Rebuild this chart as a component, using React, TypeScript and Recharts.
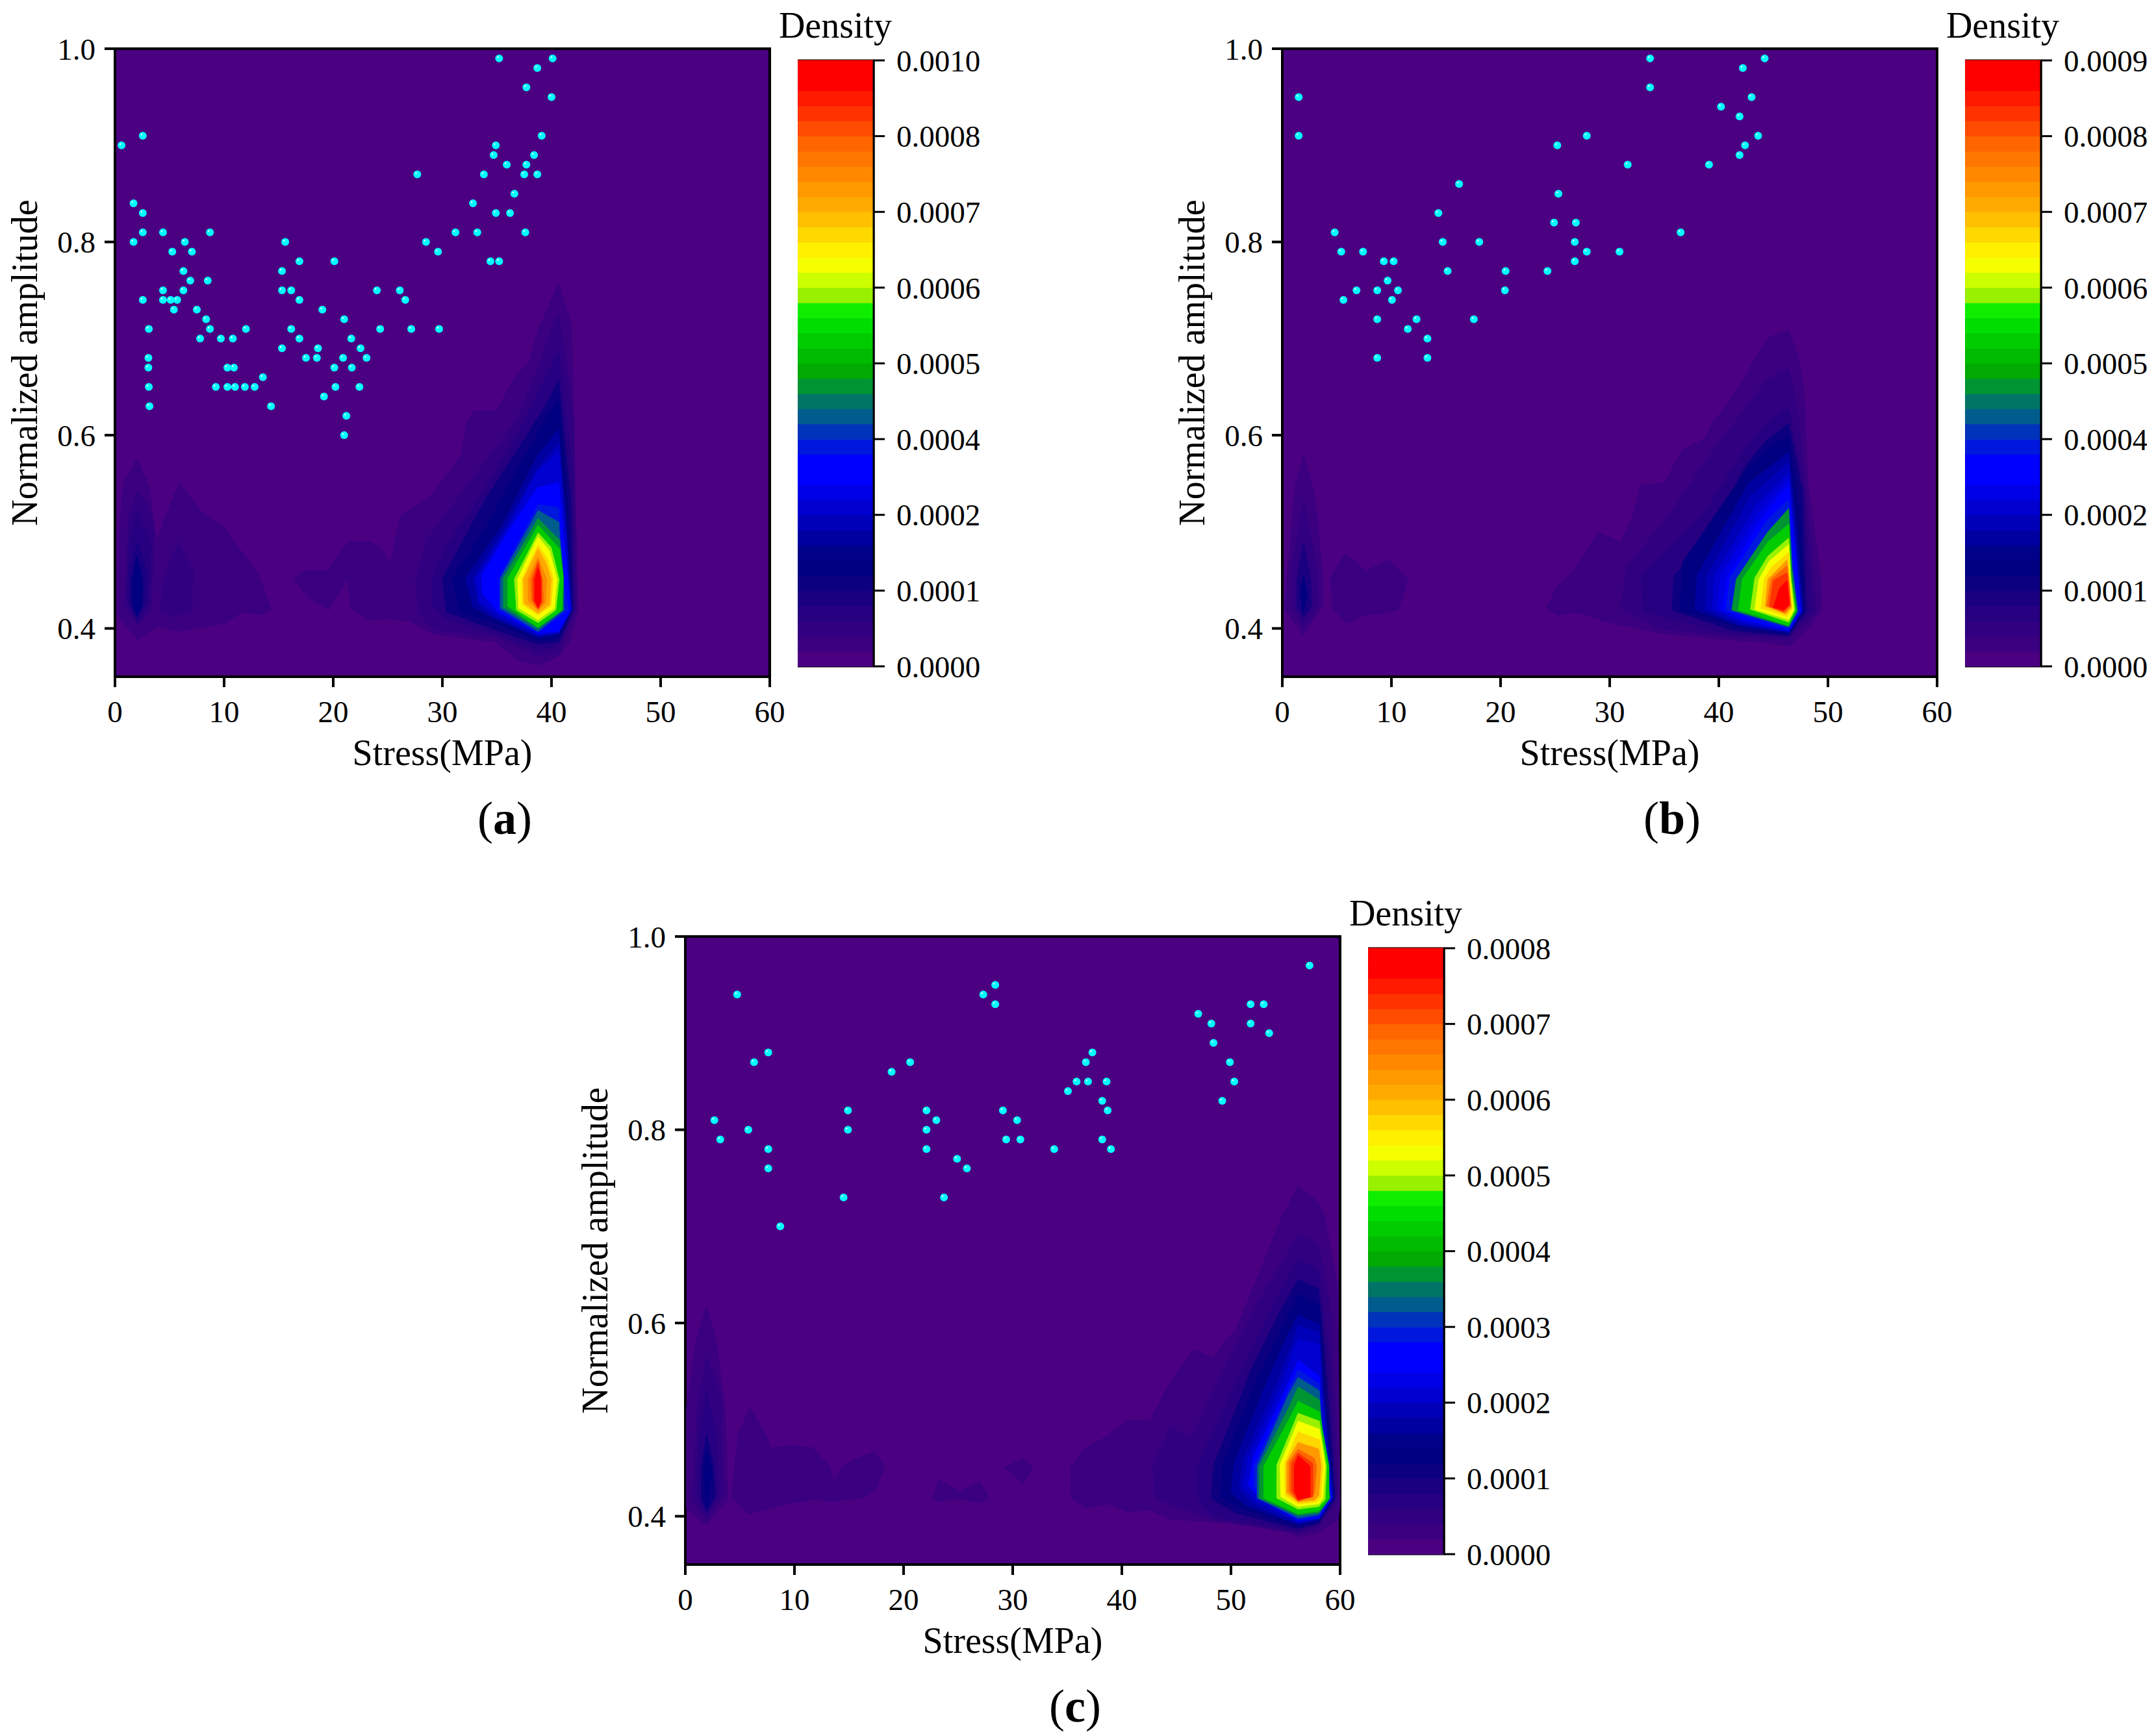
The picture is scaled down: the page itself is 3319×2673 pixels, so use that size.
import React from 'react'
import { BarChart, Bar, ScatterChart, Scatter, XAxis, YAxis, ReferenceArea } from 'recharts'

const FONT = '"Liberation Serif", "Times New Roman", serif'

// density bands, low to high
const bandColors = [
  '#4B0082', '#3A0080', '#300080', '#260080', '#1A0080', '#0C0080', '#000080', '#000088',
  '#0000A0', '#0000B8', '#0000D0', '#0000E6', '#0000FF', '#0000FF', '#0018DD', '#0033BB',
  '#005C8C', '#007566', '#009433', '#00AA00', '#00BB00', '#00CC00', '#00DD00', '#10EE00',
  '#99F000', '#CCFF00', '#F5FF00', '#FFF000', '#FFD800', '#FFC000', '#FFAA00', '#FF9900',
  '#FF8800', '#FF7700', '#FF6600', '#FF4C00', '#FF3300', '#FF1A00', '#FF0000', '#FF0000',
]

const stressTicks = [0, 10, 20, 30, 40, 50, 60]
const amplitudeTicks = [0.4, 0.6, 0.8, 1.0]
const bandTicks = [0, 5, 10, 15, 20, 25, 30, 35, 40]
const densityLabelsA = ['0.0000', '0.0001', '0.0002', '0.0004', '0.0005', '0.0006', '0.0007', '0.0008', '0.0010']
const densityLabelsB = ['0.0000', '0.0001', '0.0002', '0.0004', '0.0005', '0.0006', '0.0007', '0.0008', '0.0009']
const densityLabelsC = ['0.0000', '0.0001', '0.0002', '0.0003', '0.0004', '0.0005', '0.0006', '0.0007', '0.0008']

type Pair = [number, number]
type Contour = [number, Pair[]]

const dotsA: Pair[] = [
  [35.2, .99], [40.1, .99], [38.7, .98], [37.7, .96], [40, .95], [2.55, .91], [39.1, .91], [.6, .9], [34.9, .9],
  [34.7, .89], [38.4, .89], [35.9, .88], [37.7, .88], [27.7, .87], [33.8, .87], [37.5, .87], [38.7, .87],
  [36.6, .85], [32.8, .84], [1.7, .84], [2.55, .83], [34.9, .83], [36.2, .83], [2.55, .81], [4.4, .81], [8.7, .81],
  [31.2, .81], [33.2, .81], [37.6, .81], [1.7, .8], [6.4, .8], [15.6, .8], [28.5, .8], [5.25, .79], [7.05, .79],
  [29.6, .79], [16.9, .78], [20.1, .78], [34.4, .78], [35.2, .78], [6.27, .77], [15.3, .77], [6.9, .76], [8.5, .76],
  [4.4, .75], [6.27, .75], [15.3, .75], [16.15, .75], [24, .75], [26.1, .75], [2.55, .74], [4.4, .74], [5.1, .74],
  [5.7, .74], [16.9, .74], [26.6, .74], [5.4, .73], [7.5, .73], [19, .73], [8.35, .72], [21, .72], [3.1, .71],
  [8.7, .71], [12, .71], [16.15, .71], [24.3, .71], [27.15, .71], [29.7, .71], [7.8, .7], [9.7, .7], [10.8, .7],
  [16.9, .7], [21.65, .7], [15.3, .69], [18.6, .69], [22.5, .69], [3.06, .68], [17.5, .68], [18.5, .68], [20.9, .68],
  [23.05, .68], [3.06, .67], [10.3, .67], [10.9, .67], [20.1, .67], [21.7, .67], [13.55, .66], [3.1, .65], [9.24, .65],
  [10.3, .65], [11, .65], [11.9, .65], [12.8, .65], [20.2, .65], [22.4, .65], [19.15, .64], [3.16, .63], [14.3, .63],
  [21.2, .62], [21, .6],
]

const dotsB: Pair[] = [
  [33.7, .99], [44.2, .99], [42.2, .98], [33.7, .96], [43, .95], [1.5, .95], [40.2, .94], [41.9, .93], [1.5, .91],
  [27.9, .91], [43.6, .91], [25.2, .9], [42.4, .9], [41.9, .89], [31.65, .88], [39.1, .88], [16.2, .86], [25.3, .85],
  [14.3, .83], [24.9, .82], [26.9, .82], [4.8, .81], [36.5, .81], [14.7, .8], [18.05, .8], [26.8, .8], [5.4, .79],
  [7.4, .79], [27.9, .79], [30.9, .79], [9.3, .78], [10.2, .78], [26.8, .78], [15.15, .77], [20.46, .77], [24.3, .77],
  [9.65, .76], [6.8, .75], [8.7, .75], [10.6, .75], [20.4, .75], [5.6, .74], [10.05, .74], [8.7, .72], [12.3, .72],
  [17.55, .72], [11.5, .71], [13.3, .7], [8.7, .68], [13.3, .68],
]

const dotsC: Pair[] = [
  [57.2, .97], [28.4, .95], [4.75, .94], [27.3, .94], [28.4, .93], [51.8, .93], [53, .93], [47, .92], [48.2, .91],
  [51.8, .91], [53.5, .9], [48.4, .89], [7.6, .88], [37.3, .88], [6.3, .87], [20.6, .87], [36.7, .87], [49.9, .87],
  [18.9, .86], [35.85, .85], [36.9, .85], [38.6, .85], [50.3, .85], [35.06, .84], [38.2, .83], [49.2, .83], [14.9, .82],
  [22.1, .82], [29.1, .82], [38.7, .82], [2.66, .81], [23, .81], [30.4, .81], [5.77, .8], [14.9, .8], [22.1, .8],
  [3.2, .79], [29.4, .79], [30.7, .79], [38.2, .79], [7.6, .78], [22.1, .78], [33.8, .78], [39, .78], [24.9, .77],
  [7.6, .76], [25.8, .76], [14.5, .73], [23.7, .73], [8.7, .7],
]

// [band, outline], drawn in this order so the higher bands sit on top
const contoursA: Contour[] = [
  [1, [[2, .576], [.73, .549], [.39, .502], [.32, .412], [2.1, .388], [3.81, .402], [5.86, .397], [9.96, .405], [11.67, .417], [13.4, .414], [14.3, .42], [13.2, .4545], [9.96, .506], [7.9, .521], [5.93, .551], [4.5, .513], [3.81, .489], [3.13, .547]]],
  [2, [[2, .542], [1.25, .515], [.9, .423], [2.1, .404], [3.3, .42], [3.64, .502], [2.95, .529]]],
  [3, [[2, .52], [1.3, .49], [1.1, .43], [2.05, .405], [3.1, .425], [3.3, .49]]],
  [4, [[2, .49], [1.35, .46], [1.3, .425], [2.03, .41], [2.8, .425], [2.9, .46]]],
  [6, [[2, .476], [1.55, .449], [1.6, .425], [2.03, .412], [2.5, .425], [2.55, .449]]],
  [2, [[5.86, .49], [4.5, .454], [4.15, .42], [5.5, .412], [7.05, .42], [7.15, .46]]],
  [1, [[16.35, .452], [17.5, .46], [19.5, .46], [21.4, .49], [23.3, .49], [24.3, .484], [25.2, .468], [26.17, .517], [28.95, .537], [31.73, .58], [32.2, .613], [32.9, .625], [34.9, .625], [36.7, .661], [37.98, .677], [38.77, .709], [40.65, .757], [41.85, .713], [42.44, .419], [41.65, .386], [40.66, .371], [38.77, .362], [36.9, .367], [34.9, .386], [29.15, .394], [27.1, .407], [25.3, .41], [23.3, .409], [21.6, .42], [21.3, .452], [19.6, .419], [17.8, .431]]],
  [2, [[40.66, .725], [42.05, .617], [42.28, .419], [40.66, .375], [38.77, .371], [34.9, .391], [29.15, .399], [27.76, .417], [27.56, .452], [28.55, .491], [31.73, .54], [35.1, .589], [36.9, .617], [38.87, .672], [39.86, .707]]],
  [3, [[40.66, .688], [41.95, .562], [42.14, .419], [40.66, .382], [38.77, .378], [34.7, .395], [30.14, .411], [29.05, .425], [29.05, .452], [30.34, .485], [33.9, .545], [37.1, .606], [39.07, .652]]],
  [5, [[40.66, .657], [41.75, .535], [41.95, .419], [40.66, .386], [38.77, .384], [34.5, .4], [30.34, .417], [30.04, .452], [33.7, .529], [37.28, .592], [39.47, .631]]],
  [6, [[40.66, .639], [41.45, .535], [41.85, .419], [40.66, .39], [38.77, .388], [34.7, .406], [31.53, .417], [30.94, .452], [34.1, .507], [37.28, .573], [39.47, .617]]],
  [8, [[40.66, .606], [41.35, .507], [41.85, .419], [40.66, .394], [38.77, .3905], [34.9, .4096], [32.8, .422], [32.1, .452], [35.5, .507], [38.67, .5784]]],
  [9, [[40.66, .592], [41.35, .507], [41.8, .419], [40.66, .395], [38.77, .392], [34.9, .411], [33.3, .425], [32.8, .452], [35.9, .507], [38.67, .565]]],
  [10, [[40.66, .584], [41.29, .4934], [41.8, .419], [40.66, .396], [38.77, .3932], [35, .4138], [33.4, .4275], [33.1, .452], [36.1, .507], [38.67, .562]]],
  [12, [[40.66, .551], [41.25, .48], [41.75, .419], [40.66, .397], [38.77, .395], [35.1, .417], [33.7, .436], [33.6, .455], [36.1, .5016], [38.67, .5455]]],
  [14, [[38.77, .528], [40.66, .525], [41.05, .452], [41.55, .419], [38.77, .396], [35.2, .419], [35.2, .452]]],
  [16, [[38.77, .522], [40.66, .51], [41.15, .419], [38.77, .397], [35.34, .421], [35.34, .452]]],
  [18, [[38.77, .514], [40.76, .491], [41.11, .452], [41.05, .419], [38.77, .4], [35.6, .422], [35.6, .452]]],
  [21, [[38.77, .507], [40.76, .482], [41.05, .452], [40.95, .419], [38.77, .401], [36, .423], [36, .452]]],
  [24, [[38.77, .499], [39.96, .484], [40.7, .451], [40.4, .419], [38.77, .406], [36.8, .419], [36.6, .451]]],
  [26, [[38.77, .495], [39.82, .48], [40.5, .451], [40.26, .421], [38.77, .409], [37, .421], [36.9, .451]]],
  [28, [[38.77, .4865], [39.66, .4714], [40.16, .451], [39.96, .4234], [38.77, .4138], [37.32, .4247], [37.28, .451]]],
  [30, [[38.77, .4824], [39.5, .4673], [39.96, .451], [39.82, .4247], [38.77, .4157], [37.5, .4261], [37.44, .451]]],
  [32, [[38.77, .4742], [39.23, .4604], [39.56, .451], [39.47, .427], [38.77, .4187], [37.88, .428], [37.84, .451]]],
  [34, [[38.77, .47], [39.17, .451], [39.27, .4275], [38.77, .4193], [38.18, .429], [38.08, .451]]],
  [36, [[38.77, .4687], [39.1, .451], [39.1, .4275], [38.77, .4204], [38.3, .429], [38.28, .451]]],
  [38, [[38.77, .463], [39.01, .451], [39.01, .4275], [38.77, .4215], [38.47, .429], [38.47, .451]]],
]

const contoursB: Contour[] = [
  [1, [[1.93, .5785], [1.18, .548], [.19, .4204], [1.93, .3933], [3.71, .423], [3.71, .4523], [3.15, .5214], [2.77, .548]]],
  [2, [[1.93, .532], [.87, .4629], [.87, .4204], [1.93, .4004], [3.33, .423], [3.15, .4629]]],
  [4, [[1.93, .4895], [1.33, .4496], [1.33, .423], [1.93, .4097], [2.69, .423], [2.58, .4549]]],
  [6, [[1.93, .4549], [1.63, .4363], [1.93, .415], [2.31, .4363]]],
  [1, [[5.8, .4775], [7.69, .4594], [9.66, .4714], [11.55, .451], [10.65, .4198], [9.4, .4156], [7.69, .4143], [5.87, .4057], [4.66, .4198], [4.4, .4523]]],
  [1, [[24.17, .42], [25.1, .442], [27, .464], [28.9, .4996], [31, .4895], [32.1, .516], [32.9, .5485], [34.96, .5506], [36.67, .585], [38.75, .5966], [39.3, .6104], [41.6, .6463], [44.5, .7013], [46.4, .7088], [47.27, .681], [47.8, .649], [48.2, .548], [49.36, .45], [49.36, .4177], [48.2, .4004], [46.4, .3818], [44.24, .3858], [40.6, .3885], [34.6, .395], [29.66, .407], [27, .417], [25.3, .4137]]],
  [2, [[46.4, .669], [47.27, .6224], [48.4, .49], [48.98, .4177], [46.4, .3885], [40.6, .3925], [34.6, .4], [31, .4204], [31.55, .463], [35.35, .516], [39.5, .585], [44.43, .657]]],
  [3, [[46.4, .6277], [47.84, .5426], [48.5, .4177], [46.4, .391], [40.6, .395], [33.07, .4177], [32.88, .4549], [38.75, .5214], [42.35, .585], [44.43, .6144]]],
  [5, [[46.4, .6117], [47.65, .5426], [48, .4177], [46.4, .3925], [41.4, .3978], [35.7, .419], [35.9, .4549], [38.75, .4895], [42.5, .5692], [44.43, .5958]]],
  [6, [[46.4, .5985], [47.46, .516], [47.77, .4177], [46.4, .3938], [41.78, .4018], [36.48, .419], [36.67, .4682], [42.5, .564], [44.5, .5878]]],
  [8, [[46.4, .5825], [47.2, .5], [47.7, .4177], [46.4, .395], [41.78, .403], [37.8, .4197], [38, .4549], [42.7, .55]]],
  [9, [[46.4, .5719], [47.08, .4895], [47.65, .4177], [46.4, .3964], [41.78, .4044], [38.75, .4204], [38.94, .4549], [42.92, .5373]]],
  [10, [[46.4, .5612], [47, .4895], [47.6, .4177], [46.4, .397], [42, .406], [39.4, .4204], [39.6, .4549], [43.4, .527]]],
  [11, [[46.4, .5545], [46.95, .4895], [47.55, .4177], [46.4, .3975], [42.1, .408], [39.85, .4204], [40.2, .4549], [43.7, .52]]],
  [12, [[46.4, .5479], [46.9, .4895], [47.46, .4177], [46.4, .3978], [42.16, .4097], [40.27, .4204], [40.83, .4549], [44.05, .516]]],
  [14, [[46.4, .5333], [46.78, .4629], [47.35, .4177], [46.4, .3991], [40.65, .419], [41.02, .4523], [44.43, .512]]],
  [18, [[46.4, .524], [46.7, .4629], [47.2, .4177], [46.4, .4018], [41.2, .419], [41.6, .451], [44.5, .5]]],
  [21, [[46.4, .508], [46.63, .4523], [47.08, .419], [46.4, .4031], [41.78, .419], [42.16, .451], [44.5, .4895]]],
  [24, [[46.4, .4935], [46.63, .451], [46.97, .419], [46.4, .4066], [42.9, .4198], [43.3, .4523], [44.5, .4749]]],
  [26, [[46.4, .4868], [46.55, .451], [46.86, .419], [46.4, .4092], [43.3, .4198], [43.68, .451], [44.62, .4696]]],
  [28, [[46.4, .4788], [46.48, .451], [46.7, .4204], [46.25, .4124], [43.87, .4209], [44.17, .451], [44.8, .463]]],
  [31, [[46.25, .4709], [46.4, .4496], [46.63, .4217], [46.14, .4151], [44.25, .423], [44.5, .451]]],
  [34, [[46.25, .465], [46.45, .447], [46.6, .423], [46.02, .416], [44.4, .4235], [44.8, .451]]],
  [36, [[46.25, .4576], [46.5, .4244], [45.95, .4177], [44.62, .423], [45, .4496]]],
  [38, [[46.25, .4496], [46.48, .4244], [45.95, .419], [45, .4217], [45.57, .4416]]],
]

const contoursC: Contour[] = [
  [1, [[1.95, .6178], [.96, .5807], [.1, .512], [.1, .4078], [1.95, .3908], [3.92, .4188], [3.64, .5121], [2.85, .5807]]],
  [2, [[1.95, .567], [1.08, .512], [.69, .416], [1.95, .3969], [3.45, .4215], [3.25, .5258]]],
  [3, [[1.95, .5286], [1.28, .4847], [1.08, .4215], [1.95, .401], [3.05, .4215], [2.85, .4847]]],
  [5, [[1.95, .4847], [1.47, .4517], [1.47, .4188], [1.95, .405], [2.74, .4215], [2.58, .4517]]],
  [6, [[1.95, .4682], [1.67, .4435], [1.95, .4106], [2.46, .4435]]],
  [1, [[5.89, .512], [4.83, .4847], [4.23, .4188], [5.81, .4023], [8.96, .4119], [11.65, .4174], [13.5, .4155], [16.26, .4188], [17.44, .4265], [18.23, .4512], [17.36, .4668], [15.47, .4586], [14.4, .4512], [13.58, .4366], [13.22, .4517], [11.65, .471], [9.75, .4737], [7.78, .4704], [7.39, .4847]]],
  [1, [[23.23, .4375], [25.13, .4257], [26.98, .4358], [27.9, .4188], [27.02, .4141], [25.13, .4183], [23.43, .4152], [22.64, .4188]]],
  [1, [[30.92, .46], [31.9, .4512], [30.96, .433], [29.26, .4504]]],
  [1, [[35.3, .4504], [36.55, .4696], [38.5, .4819], [40.5, .4989], [42.6, .4997], [44.44, .5395], [46.6, .573], [48.4, .5637], [49.4, .5807], [50.5, .5944], [54.7, .7111], [56.15, .7412], [58.04, .7248], [58.6, .7097], [59.8, .6356], [60, .4106], [59.8, .3955], [58.04, .3831], [56.15, .3784], [54.9, .3872], [48.4, .394], [44.44, .3968], [42.47, .4064], [40.5, .4045], [38.7, .4128], [36.75, .4086], [35.4, .4188]]],
  [2, [[56.15, .6918], [58.04, .6809], [59.2, .6081], [59.8, .416], [58.04, .3886], [56.15, .3817], [48.4, .3968], [44.83, .4106], [43.06, .4188], [42.86, .4517], [44.44, .4915], [46.4, .4819], [49.17, .5478], [52.3, .619], [54.7, .663]]],
  [3, [[56.15, .6658], [58.04, .6548], [58.94, .567], [59.65, .4188], [58.04, .3914], [56.15, .3845], [48.4, .3996], [47, .4188], [46.9, .4517], [49.96, .5258], [53.9, .619]]],
  [5, [[56.15, .6452], [58.04, .6356], [58.7, .5533], [59.53, .4188], [58.04, .3927], [56.15, .3872], [50.35, .4037], [48.2, .4188], [48.4, .4517], [51.9, .5533], [54.3, .6081]]],
  [6, [[56.15, .6301], [58.1, .6191], [58.55, .5395], [59.46, .4188], [58.04, .3941], [56.15, .39], [51.1, .4078], [49.1, .4188], [49.17, .4517], [52.3, .5395], [55.1, .6054]]],
  [8, [[56.15, .6081], [58.1, .5985], [58.5, .53], [59.4, .4188], [58.04, .3955], [56.15, .3914], [51.5, .4105], [50, .4243], [50.3, .455], [53.3, .5395], [55.3, .59]]],
  [9, [[56.15, .5972], [58.1, .5903], [58.4, .5258], [59.34, .4188], [58.04, .3968], [56.15, .3927], [51.93, .4133], [50.75, .4298], [51.14, .46], [54.3, .5395], [55.47, .5752]]],
  [10, [[56.15, .5835], [58.1, .578], [58.35, .5258], [59.28, .4188], [58.04, .3975], [56.15, .394], [52.3, .416], [51.1, .431], [51.6, .461], [54.7, .5367], [55.67, .571]]],
  [12, [[56.15, .5615], [58.1, .545], [58.3, .5], [59.22, .4188], [58.04, .3982], [56.15, .3955], [52.7, .4188], [51.6, .4325], [52.1, .4627], [55.1, .534]]],
  [14, [[56.15, .5519], [58.1, .5368], [58.4, .4517], [59.14, .4188], [58.04, .4001], [56.15, .3968], [52.1, .4298], [52.1, .4517], [55.1, .5258]]],
  [16, [[56.15, .5437], [58.1, .5299], [58.5, .4517], [59.1, .4188], [58.04, .4018], [56.15, .3982], [52.4, .4188], [52.4, .4517], [55.28, .5258]]],
  [18, [[56.15, .534], [58.1, .5203], [58.7, .4517], [59.06, .4188], [58.04, .4037], [56.15, .4009], [52.6, .4188], [52.6, .4517], [55.28, .5121]]],
  [21, [[56.15, .519], [58.1, .508], [58.98, .4517], [58.98, .4188], [58.04, .4055], [56.15, .4023], [53, .4188], [53, .4517], [55.3, .5]]],
  [24, [[56.15, .5066], [58.1, .4984], [58.75, .4517], [58.63, .4174], [58.04, .41], [56.15, .4073], [54.2, .4188], [54.2, .4531]]],
  [26, [[56.15, .4984], [58.1, .4901], [58.63, .4517], [58.43, .4188], [58.04, .4128], [56.15, .41], [54.57, .4202], [54.49, .4531]]],
  [28, [[56.15, .4874], [58.1, .4792], [58.43, .4517], [58.24, .4202], [57.84, .4147], [56.15, .4128], [54.96, .4215], [54.9, .4545]]],
  [31, [[56.15, .4764], [58.04, .4696], [58.24, .4517], [58.04, .4215], [57.64, .4166], [56.15, .4147], [55.1, .4243], [55.1, .4558]]],
  [34, [[56.15, .4694], [57.64, .46], [57.84, .4517], [57.64, .4229], [56.15, .4155], [55.32, .4257], [55.32, .4558]]],
  [36, [[56.15, .4654], [57.5, .4545], [57.5, .4202], [56.15, .4161], [55.55, .4257], [55.55, .4545]]],
  [38, [[56.15, .4627], [57.25, .4517], [57.25, .4202], [56.15, .4174], [55.8, .4257], [55.8, .4517]]],
]

const toXY = (pairs: Pair[]) => pairs.map(([x, y]) => ({ x, y }))

const tickStyle = { fill: '#000', fontSize: 47, fontFamily: FONT }
const titleStyle = { fill: '#000', fontSize: 56, fontFamily: FONT }
const axisStroke = { stroke: '#000', strokeWidth: 4 }

function Dot({ cx, cy }: any) {
  return (
    <g>
      <circle cx={cx} cy={cy} r={6} fill="#00FFFF" />
      <circle cx={cx - 2} cy={cy - 2} r={1.2} fill="#fff" />
    </g>
  )
}

function DensityPlot({ dots, contours }: { dots: Pair[]; contours: Contour[] }) {
  return (
    <ScatterChart width={1240} height={1200} margin={{ top: 75, right: 55, bottom: 0, left: 0 }}>
      <ReferenceArea x1={0} x2={60} y1={0.35} y2={1} fill={bandColors[0]} fillOpacity={1} stroke="none" />
      <XAxis
        type="number"
        dataKey="x"
        domain={[0, 60]}
        ticks={stressTicks}
        interval={0}
        height={158}
        tick={tickStyle}
        tickSize={16}
        tickMargin={21}
        axisLine={axisStroke}
        tickLine={axisStroke}
        label={{ value: 'Stress(MPa)', position: 'insideBottom', offset: 22, style: titleStyle }}
      />
      <YAxis
        type="number"
        dataKey="y"
        domain={[0.35, 1]}
        ticks={amplitudeTicks}
        interval={0}
        width={177}
        tick={tickStyle}
        tickFormatter={(v: number) => v.toFixed(1)}
        tickSize={16}
        tickMargin={14}
        axisLine={axisStroke}
        tickLine={axisStroke}
        label={{ value: 'Normalized amplitude', angle: -90, position: 'insideLeft', offset: 37, style: { ...titleStyle, textAnchor: 'middle' } }}
      />
      {contours.map(([band, outline], i) => (
        <Scatter
          key={i}
          data={toXY(outline)}
          fill={bandColors[band]}
          line={{ fill: bandColors[band], stroke: bandColors[band], strokeWidth: 1 }}
          lineJointType="linearClosed"
          shape={() => <g />}
          isAnimationActive={false}
        />
      ))}
      <Scatter data={toXY(dots)} shape={<Dot />} isAnimationActive={false} />
      <ReferenceArea x1={0} x2={60} y1={0.35} y2={1} fill="none" stroke="#000" strokeWidth={4} />
    </ScatterChart>
  )
}

const barRow: Record<string, number | string> = { name: 'density' }
bandColors.forEach((_, i) => {
  barRow['b' + i] = 1
})
const barRows = [barRow]

function ColorBar({ labels }: { labels: string[] }) {
  return (
    <BarChart
      width={280}
      height={993}
      data={barRows}
      margin={{ top: 30, right: 0, bottom: 30, left: 0 }}
      barCategoryGap={0}
    >
      <XAxis dataKey="name" hide />
      <YAxis
        orientation="right"
        type="number"
        domain={[0, 40]}
        ticks={bandTicks}
        interval={0}
        width={163}
        tick={tickStyle}
        tickFormatter={(v: number) => labels[v / 5]}
        tickSize={17}
        tickMargin={18}
        axisLine={{ stroke: '#000', strokeWidth: 3 }}
        tickLine={{ stroke: '#000', strokeWidth: 3 }}
      />
      {bandColors.map((c, i) => (
        <Bar key={i} dataKey={'b' + i} stackId="density" fill={c} stroke={c} strokeWidth={1} isAnimationActive={false} />
      ))}
      <ReferenceArea y1={0} y2={40} fill="none" stroke="#000" strokeWidth={3} />
    </BarChart>
  )
}

function Panel({ left, top, dots, contours, labels }: { left: number; top: number; dots: Pair[]; contours: Contour[]; labels: string[] }) {
  return (
    <>
      <div style={{ position: 'absolute', left, top }}>
        <DensityPlot dots={dots} contours={contours} />
      </div>
      <div style={{ position: 'absolute', left: left + 1228, top: top + 63 }}>
        <ColorBar labels={labels} />
      </div>
      <div style={{ position: 'absolute', left: left + 1186, top: top + 6, width: 200, textAlign: 'center', fontSize: 56, lineHeight: '66px' }}>
        Density
      </div>
    </>
  )
}

function PanelTag({ letter, x, y }: { letter: string; x: number; y: number }) {
  return (
    <div style={{ position: 'absolute', left: x - 100, top: y - 49, width: 200, textAlign: 'center', fontSize: 72, lineHeight: '90px' }}>
      (<b>{letter}</b>)
    </div>
  )
}

export default function App() {
  return (
    <div style={{ position: 'absolute', left: 0, top: 0, width: 3319, height: 2673, background: '#fff', fontFamily: FONT, color: '#000' }}>
      <Panel left={0} top={0} dots={dotsA} contours={contoursA} labels={densityLabelsA} />
      <Panel left={1797} top={0} dots={dotsB} contours={contoursB} labels={densityLabelsB} />
      <Panel left={878} top={1367} dots={dotsC} contours={contoursC} labels={densityLabelsC} />
      <PanelTag letter="a" x={777} y={1264} />
      <PanelTag letter="b" x={2574} y={1264} />
      <PanelTag letter="c" x={1655} y={2631} />
    </div>
  )
}
